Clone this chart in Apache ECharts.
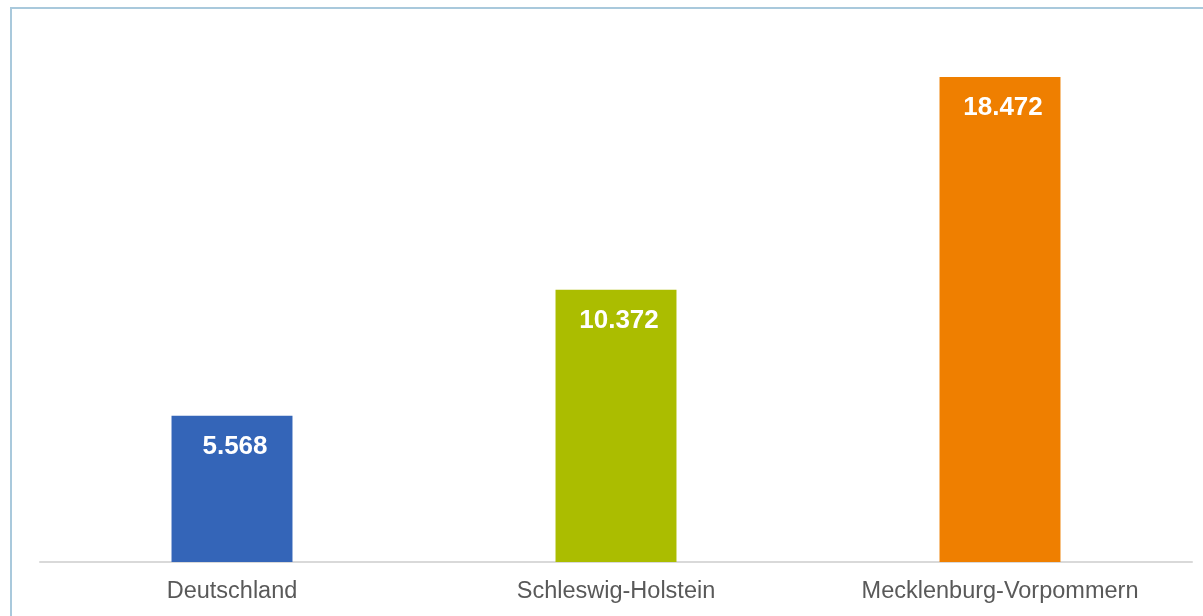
<!DOCTYPE html>
<html>
<head>
<meta charset="utf-8">
<script src="https://cdn.jsdelivr.net/npm/echarts@6/dist/echarts.min.js"></script>
<style>
html,body{margin:0;padding:0;background:#fff;overflow:hidden;}
#frame{position:absolute;left:10px;top:7px;width:1400px;height:800px;border:2px solid #a9c9dc;box-sizing:border-box;}
#chart{position:absolute;left:0;top:0;width:1203px;height:616px;}
</style>
</head>
<body>
<div id="frame"></div>
<div id="chart"></div>
<script>
const categories = ['Deutschland', 'Schleswig-Holstein', 'Mecklenburg-Vorpommern'];
const values = [5.568, 10.372, 18.472];
const barColors = ['#3465b8', '#abbd00', '#ef7f00'];

const chart = echarts.init(document.getElementById('chart'));
chart.setOption({
  animation: false,
  grid: {left: 40, right: 11, top: 37, bottom: 54, containLabel: false},
  xAxis: {
    type: 'category',
    data: categories,
    axisLine: {lineStyle: {color: '#d9d9d9', width: 2}},
    axisTick: {show: false},
    axisLabel: {color: '#595959', fontSize: 23.5, fontFamily: 'Liberation Sans, Arial, sans-serif', margin: 18}
  },
  yAxis: {
    type: 'value',
    min: 0,
    max: 20,
    show: false,
    splitLine: {show: false}
  },
  series: [{
    type: 'bar',
    barWidth: '31.5%',
    data: values.map((v, i) => ({value: v, itemStyle: {color: barColors[i]}})),
    label: {
      show: true,
      position: 'insideTop',
      distance: 18,
      offset: [3, 0],
      color: '#ffffff',
      fontWeight: 'bold',
      fontSize: 26,
      fontFamily: 'Liberation Sans, Arial, sans-serif',
      formatter: p => p.value.toFixed(3)
    }
  }]
});
</script>
</body>
</html>
